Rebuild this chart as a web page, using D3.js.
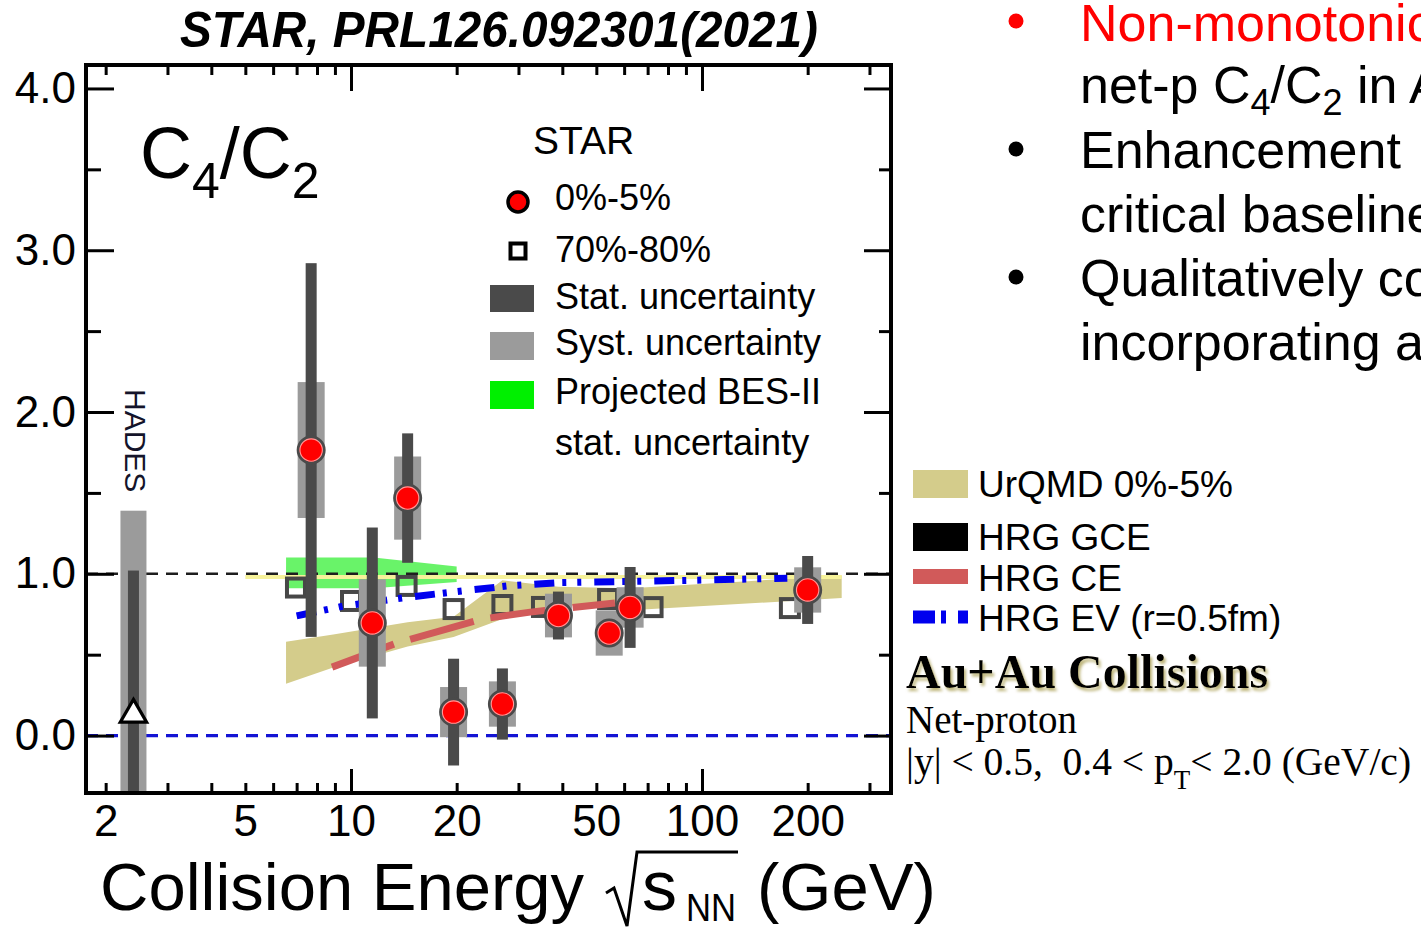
<!DOCTYPE html>
<html>
<head>
<meta charset="utf-8">
<script src="https://cdn.jsdelivr.net/npm/d3@7"></script>
<style>
  html, body { margin: 0; padding: 0; background: #fff; overflow: hidden; }
  svg { display: block; }
</style>
</head>
<body>
<svg id="chart" width="1421" height="930"></svg>
<script>
// ---- STAR net-proton C4/C2, 0-5% central (red circles) ----
const centralEnergy = [7.7, 11.5, 14.5, 19.6, 27, 39, 54.4, 62.4, 200];
const centralValue  = [1.765, 0.696, 1.468, 0.145, 0.195, 0.742, 0.634, 0.792, 0.90];
const centralStat   = [1.155, 0.59, 0.40, 0.33, 0.22, 0.148, 0.07, 0.25, 0.21];
const centralSyst   = [0.42, 0.27, 0.257, 0.155, 0.14, 0.135, 0.14, 0.125, 0.14];

// ---- 70-80% peripheral (open squares, plotted with small energy offsets) ----
const peripheralEnergy = [6.97, 10.0, 14.4, 19.6, 27, 35.0, 54.0, 72.3, 178];
const peripheralValue  = [0.915, 0.832, 0.925, 0.782, 0.807, 0.795, 0.844, 0.794, 0.788];

// ---- HADES point ----
const hadesEnergy = [2.4];
const hadesValue  = [0.13];
const hadesStat   = [0.89];
const hadesSyst   = [1.26];

// ---- Projected BES-II statistical uncertainty band ----
const besEnergy = [6.53, 11.6, 20.0];
const besHigh   = [1.10, 1.10, 1.045];
const besLow    = [0.91, 0.91, 0.95];

// ---- UrQMD 0-5% band ----
const urqmdEnergy = [6.53, 8.9, 14.5, 19.6, 27, 39, 62.4, 250];
const urqmdHigh   = [0.58, 0.625, 0.70, 0.735, 0.96, 0.92, 0.91, 0.99];
const urqmdLow    = [0.32, 0.42, 0.55, 0.61, 0.72, 0.81, 0.775, 0.85];

// ---- HRG canonical ensemble ----
const hrgCeEnergy = [8.83, 13.5, 23.6, 32.4, 56.5];
const hrgCeValue  = [0.423, 0.572, 0.72, 0.763, 0.82];

// ---- HRG excluded volume (r = 0.5 fm) ----
const hrgEvEnergy = [7.0, 9.5, 14.5, 22, 28, 39, 94, 175];
const hrgEvValue  = [0.74, 0.80, 0.855, 0.90, 0.925, 0.945, 0.96, 0.973];

// ---- HRG grand canonical ensemble (unity) ----
const hrgGceEnergy = [5.0, 250];
const hrgGceValue  = [0.98, 0.98];

// ---- axis ticks ----
const xMinorTicks = [2, 3, 4, 5, 6, 7, 8, 9, 20, 30, 40, 50, 60, 70, 80, 90, 200, 300];
const xMajorTicks = [10, 100];
const xTickLabels = [2, 5, 10, 20, 50, 100, 200];
const yMajorTicks = [0, 1, 2, 3, 4];
const yMinorTicks = [0.5, 1.5, 2.5, 3.5];

const SANS = "'Liberation Sans', Arial, Helvetica, sans-serif";
const SERIF = "'Liberation Serif', 'Times New Roman', serif";

const svg = d3.select("#chart");
const plot = { left: 86, right: 891, top: 65, bottom: 793 };

const x = d3.scaleLog().domain([1.758, 345.5]).range([plot.left, plot.right]);
const y = d3.scaleLinear().domain([-0.355, 4.145]).range([plot.bottom, plot.top]);

const defs = svg.append("defs");
defs.append("clipPath").attr("id", "plotClip")
  .append("rect")
  .attr("x", plot.left).attr("y", plot.top)
  .attr("width", plot.right - plot.left).attr("height", plot.bottom - plot.top);

// soft khaki drop shadow behind the collision-system heading
const shadow = defs.append("filter").attr("id", "khakiShadow")
  .attr("x", "-5%").attr("y", "-20%").attr("width", "110%").attr("height", "150%");
shadow.append("feGaussianBlur").attr("in", "SourceAlpha").attr("stdDeviation", 1.6).attr("result", "blur");
shadow.append("feOffset").attr("in", "blur").attr("dx", 2).attr("dy", 3).attr("result", "off");
shadow.append("feFlood").attr("flood-color", "#bdb478").attr("result", "col");
shadow.append("feComposite").attr("in", "col").attr("in2", "off").attr("operator", "in").attr("result", "sh");
const merge = shadow.append("feMerge");
merge.append("feMergeNode").attr("in", "sh");
merge.append("feMergeNode").attr("in", "SourceGraphic");

const zip = (e, a, b) => e.map((v, i) => ({ e: v, a: a[i], b: b ? b[i] : null }));

const g = svg.append("g").attr("clip-path", "url(#plotClip)");

// UrQMD band
g.append("path")
  .datum(zip(urqmdEnergy, urqmdLow, urqmdHigh))
  .attr("d", d3.area().x(d => x(d.e)).y0(d => y(d.a)).y1(d => y(d.b)))
  .attr("fill", "#d4cc8b");

// Projected BES-II band
g.append("path")
  .datum(zip(besEnergy, besLow, besHigh))
  .attr("d", d3.area().x(d => x(d.e)).y0(d => y(d.a)).y1(d => y(d.b)))
  .attr("fill", "#22ee22").attr("opacity", 0.68);

// HRG GCE (pale line near unity)
g.append("path")
  .datum(zip(hrgGceEnergy, hrgGceValue))
  .attr("d", d3.line().x(d => x(d.e)).y(d => y(d.a)))
  .attr("fill", "none").attr("stroke", "#f6f29a").attr("stroke-width", 4);

// reference line at 1
g.append("line")
  .attr("x1", plot.left).attr("x2", plot.right)
  .attr("y1", y(1)).attr("y2", y(1))
  .attr("stroke", "#1e1e1e").attr("stroke-width", 2.6).attr("stroke-dasharray", "12,8");

// reference line at 0
g.append("line")
  .attr("x1", plot.left).attr("x2", plot.right)
  .attr("y1", y(0)).attr("y2", y(0))
  .attr("stroke", "#1414d4").attr("stroke-width", 3.2).attr("stroke-dasharray", "12,8");

// peripheral squares
g.selectAll("rect.periph")
  .data(zip(peripheralEnergy, peripheralValue))
  .join("rect").attr("class", "periph")
  .attr("x", d => x(d.e) - 9).attr("y", d => y(d.a) - 9)
  .attr("width", 18).attr("height", 18)
  .attr("fill", "none").attr("stroke", "#474747").attr("stroke-width", 4);

// HRG CE
g.append("path")
  .datum(zip(hrgCeEnergy, hrgCeValue))
  .attr("d", d3.line().x(d => x(d.e)).y(d => y(d.a)))
  .attr("fill", "none").attr("stroke", "#d15a5a").attr("stroke-width", 7)
  .attr("stroke-dasharray", "66,17");

// HRG EV
g.append("path")
  .datum(zip(hrgEvEnergy, hrgEvValue))
  .attr("d", d3.line().x(d => x(d.e)).y(d => y(d.a)))
  .attr("fill", "none").attr("stroke", "#0000ee").attr("stroke-width", 7)
  .attr("stroke-dasharray", "20,8,4,11,4,13");

// HADES point
const hades = zip(hadesEnergy, hadesValue).map((d, i) => ({ ...d, stat: hadesStat[i], syst: hadesSyst[i] }));
g.selectAll("rect.hsyst").data(hades).join("rect").attr("class", "hsyst")
  .attr("x", d => x(d.e) - 13).attr("width", 26)
  .attr("y", d => y(d.a + d.syst)).attr("height", d => y(d.a - d.syst) - y(d.a + d.syst))
  .attr("fill", "#9b9b9b");
g.selectAll("rect.hstat").data(hades).join("rect").attr("class", "hstat")
  .attr("x", d => x(d.e) - 5.5).attr("width", 11)
  .attr("y", d => y(d.a + d.stat)).attr("height", d => y(d.a - d.stat) - y(d.a + d.stat))
  .attr("fill", "#4a4a4a");
g.selectAll("path.htri").data(hades).join("path").attr("class", "htri")
  .attr("transform", d => `translate(${x(d.e)},${y(d.a)})`)
  .attr("d", d3.symbol(d3.symbolTriangle, 300))
  .attr("fill", "#fff").attr("stroke", "#000").attr("stroke-width", 3.2);

// central points: syst boxes, stat bars, markers
const central = centralEnergy.map((e, i) => ({ e, a: centralValue[i], stat: centralStat[i], syst: centralSyst[i] }));
g.selectAll("rect.csyst").data(central).join("rect").attr("class", "csyst")
  .attr("x", d => x(d.e) - 13.5).attr("width", 27)
  .attr("y", d => y(d.a + d.syst)).attr("height", d => y(d.a - d.syst) - y(d.a + d.syst))
  .attr("fill", "#9b9b9b");
g.selectAll("rect.cstat").data(central).join("rect").attr("class", "cstat")
  .attr("x", d => x(d.e) - 5.5).attr("width", 11)
  .attr("y", d => y(d.a + d.stat)).attr("height", d => y(d.a - d.stat) - y(d.a + d.stat))
  .attr("fill", "#4a4a4a");
g.selectAll("circle.cpt").data(central).join("circle").attr("class", "cpt")
  .attr("cx", d => x(d.e)).attr("cy", d => y(d.a)).attr("r", 13)
  .attr("fill", "#ff0000").attr("stroke", "#4a4a4a").attr("stroke-width", 3);
g.selectAll("circle.cring").data(central).join("circle").attr("class", "cring")
  .attr("cx", d => x(d.e)).attr("cy", d => y(d.a)).attr("r", 11.2)
  .attr("fill", "none").attr("stroke", "#ff9a9a").attr("stroke-width", 1.1);

// ---- frame and ticks ----
const styleTicks = sel => {
  sel.select(".domain").remove();
  sel.selectAll("line").attr("stroke", "#000").attr("stroke-width", 3);
};
const ax = svg.append("g");
ax.append("g").attr("transform", `translate(0,${plot.bottom})`)
  .call(d3.axisBottom(x).tickValues(xMinorTicks).tickSize(-10).tickFormat("")).call(styleTicks);
ax.append("g").attr("transform", `translate(0,${plot.bottom})`)
  .call(d3.axisBottom(x).tickValues(xMajorTicks).tickSize(-24).tickFormat("")).call(styleTicks);
ax.append("g").attr("transform", `translate(0,${plot.top})`)
  .call(d3.axisTop(x).tickValues(xMinorTicks).tickSize(-10).tickFormat("")).call(styleTicks);
ax.append("g").attr("transform", `translate(0,${plot.top})`)
  .call(d3.axisTop(x).tickValues(xMajorTicks).tickSize(-26).tickFormat("")).call(styleTicks);
ax.append("g").attr("transform", `translate(${plot.left},0)`)
  .call(d3.axisLeft(y).tickValues(yMinorTicks).tickSize(-15).tickFormat("")).call(styleTicks);
ax.append("g").attr("transform", `translate(${plot.left},0)`)
  .call(d3.axisLeft(y).tickValues(yMajorTicks).tickSize(-28).tickFormat("")).call(styleTicks);
ax.append("g").attr("transform", `translate(${plot.right},0)`)
  .call(d3.axisRight(y).tickValues(yMinorTicks).tickSize(-12).tickFormat("")).call(styleTicks);
ax.append("g").attr("transform", `translate(${plot.right},0)`)
  .call(d3.axisRight(y).tickValues(yMajorTicks).tickSize(-27).tickFormat("")).call(styleTicks);

svg.append("rect")
  .attr("x", plot.left).attr("y", plot.top)
  .attr("width", plot.right - plot.left).attr("height", plot.bottom - plot.top)
  .attr("fill", "none").attr("stroke", "#000").attr("stroke-width", 4);

// tick labels
const yl = svg.append("g").attr("transform", `translate(${plot.left},0)`)
  .call(d3.axisLeft(y).tickValues(yMajorTicks).tickSize(0).tickPadding(10).tickFormat(d3.format(".1f")));
yl.select(".domain").remove();
yl.selectAll("text").attr("font-family", SANS).attr("font-size", 44).attr("fill", "#000");

const xl = svg.append("g").attr("transform", `translate(0,${plot.bottom})`)
  .call(d3.axisBottom(x).tickValues(xTickLabels).tickSize(0).tickPadding(12).tickFormat(d3.format("d")));
xl.select(".domain").remove();
xl.selectAll("text").attr("font-family", SANS).attr("font-size", 44).attr("fill", "#000");

// ---- x-axis title with radical ----
const xt = svg.append("g").attr("font-family", SANS).attr("fill", "#000");
xt.append("text").attr("x", 100).attr("y", 910).attr("font-size", 67).text("Collision Energy");
xt.append("path").attr("d", "M606,893 L614,888 L627,926 L637,852 L738,852")
  .attr("fill", "none").attr("stroke", "#000").attr("stroke-width", 3);
xt.append("text").attr("x", 642).attr("y", 910).attr("font-size", 70).text("s");
xt.append("text").attr("x", 686).attr("y", 921).attr("font-size", 38)
  .attr("textLength", 50).attr("lengthAdjust", "spacingAndGlyphs").text("NN");
xt.append("text").attr("x", 757).attr("y", 910).attr("font-size", 67).text("(GeV)");

// ---- title ----
svg.append("text").attr("x", 180).attr("y", 47)
  .attr("font-family", SANS).attr("font-weight", "bold").attr("font-style", "italic")
  .attr("font-size", 50).attr("textLength", 638).attr("lengthAdjust", "spacingAndGlyphs")
  .text("STAR, PRL126.092301(2021)");

// ---- C4/C2 label ----
const cl = svg.append("text").attr("x", 140).attr("y", 178).attr("font-family", SANS).attr("font-size", 72);
cl.append("tspan").text("C");
cl.append("tspan").attr("font-size", 50).attr("dy", 20).text("4");
cl.append("tspan").attr("dy", -20).text("/C");
cl.append("tspan").attr("font-size", 50).attr("dy", 20).text("2");

// ---- HADES label ----
svg.append("text").attr("transform", "translate(125,389) rotate(90)")
  .attr("font-family", SANS).attr("font-size", 30).attr("fill", "#14142a").text("HADES");

// ---- in-frame legend ----
const lg = svg.append("g").attr("font-family", SANS).attr("font-size", 36).attr("fill", "#000");
lg.append("text").attr("x", 533).attr("y", 154).attr("font-size", 39).text("STAR");
lg.append("circle").attr("cx", 518).attr("cy", 202).attr("r", 10)
  .attr("fill", "#ff0000").attr("stroke", "#000").attr("stroke-width", 3.5);
lg.append("text").attr("x", 555).attr("y", 210).text("0%-5%");
lg.append("rect").attr("x", 510.5).attr("y", 243.5).attr("width", 15).attr("height", 15)
  .attr("fill", "#fff").attr("stroke", "#000").attr("stroke-width", 4);
lg.append("text").attr("x", 555).attr("y", 262).text("70%-80%");
lg.append("rect").attr("x", 490).attr("y", 285).attr("width", 44).attr("height", 27).attr("fill", "#4a4a4a");
lg.append("text").attr("x", 555).attr("y", 309).text("Stat. uncertainty");
lg.append("rect").attr("x", 490).attr("y", 332).attr("width", 44).attr("height", 28).attr("fill", "#9b9b9b");
lg.append("text").attr("x", 555).attr("y", 355).text("Syst. uncertainty");
lg.append("rect").attr("x", 490).attr("y", 381).attr("width", 44).attr("height", 28).attr("fill", "#00f000");
lg.append("text").attr("x", 555).attr("y", 404).text("Projected BES-II");
lg.append("text").attr("x", 555).attr("y", 455).text("stat. uncertainty");

// ---- model legend (right of frame) ----
const ml = svg.append("g").attr("font-family", SANS).attr("font-size", 37).attr("fill", "#000");
ml.append("rect").attr("x", 913).attr("y", 470).attr("width", 55).attr("height", 28).attr("fill", "#d4cc8b");
ml.append("text").attr("x", 978).attr("y", 497).text("UrQMD 0%-5%");
ml.append("rect").attr("x", 913).attr("y", 523).attr("width", 55).attr("height", 28).attr("fill", "#000");
ml.append("text").attr("x", 978).attr("y", 550).text("HRG GCE");
ml.append("rect").attr("x", 913).attr("y", 569).attr("width", 55).attr("height", 15).attr("fill", "#d15a5a");
ml.append("text").attr("x", 978).attr("y", 591).text("HRG CE");
ml.append("line").attr("x1", 913).attr("x2", 968).attr("y1", 617).attr("y2", 617)
  .attr("stroke", "#0000ee").attr("stroke-width", 13).attr("stroke-dasharray", "22,6,5,12,12");
ml.append("text").attr("x", 978).attr("y", 631).text("HRG EV (r=0.5fm)");

// ---- collision system annotation ----
const an = svg.append("g").attr("font-family", SERIF).attr("fill", "#000");
an.append("text").attr("x", 906).attr("y", 688).attr("font-size", 48).attr("font-weight", "bold")
  .attr("filter", "url(#khakiShadow)").text("Au+Au Collisions");
an.append("text").attr("x", 906).attr("y", 733).attr("font-size", 39).text("Net-proton");
const cut = an.append("text").attr("x", 906).attr("y", 775).attr("font-size", 39.5).attr("xml:space", "preserve");
cut.append("tspan").text("|y| < 0.5,  0.4 < p");
cut.append("tspan").attr("font-size", 27).attr("dy", 14).text("T");
cut.append("tspan").attr("dy", -14).text("< 2.0 (GeV/c)");

// ---- bullet list ----
const bt = svg.append("g").attr("font-family", SANS).attr("font-size", 52).attr("fill", "#000");
const bulletDots = [
  { y: 21, color: "#ff0000" },
  { y: 149, color: "#000" },
  { y: 277, color: "#000" }
];
bt.selectAll("circle.bullet").data(bulletDots).join("circle").attr("class", "bullet")
  .attr("cx", 1016).attr("cy", d => d.y).attr("r", 7.5).attr("fill", d => d.color);
bt.append("text").attr("x", 1080).attr("y", 41).attr("fill", "#ff0000").text("Non-monotonic");
const l2 = bt.append("text").attr("x", 1080).attr("y", 103);
l2.append("tspan").text("net-p C");
l2.append("tspan").attr("font-size", 36).attr("dy", 12).text("4");
l2.append("tspan").attr("dy", -12).text("/C");
l2.append("tspan").attr("font-size", 36).attr("dy", 12).text("2");
l2.append("tspan").attr("dy", -12).text(" in Au+Au");
bt.append("text").attr("x", 1080).attr("y", 168).text("Enhancement");
bt.append("text").attr("x", 1080).attr("y", 232).text("critical baseline");
bt.append("text").attr("x", 1080).attr("y", 296).text("Qualitatively consistent");
bt.append("text").attr("x", 1080).attr("y", 360).text("incorporating a");
</script>
</body>
</html>
